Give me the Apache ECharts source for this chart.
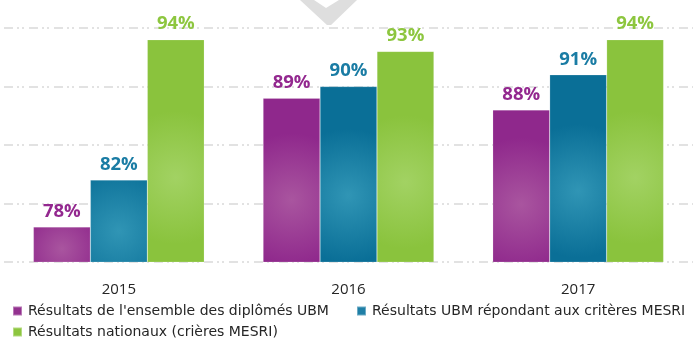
<!DOCTYPE html>
<html>
<head>
<meta charset="utf-8">
<script src="https://cdn.jsdelivr.net/npm/echarts@6/dist/echarts.min.js"></script>
<style>
  html, body { margin: 0; padding: 0; background: #ffffff; }
  #chart { width: 693px; height: 340px; }
</style>
</head>
<body>
<div id="chart"></div>
<script>
// Taux de réussite par année
const years = ['2015', '2016', '2017'];
const seriesNames = [
  "Résultats de l'ensemble des diplômés UBM",
  'Résultats UBM répondant aux critères MESRI',
  'Résultats nationaux (crières MESRI)'
];
const ensembleUBM = [78, 89, 88];
const ubmMesri = [82, 90, 91];
const nationaux = [94, 93, 94];

const FONT = 'Open Sans';
const LEGEND_FONT = 'DejaVu Sans';

function radial(inner, outer) {
  return {
    type: 'radial', x: 0.5, y: 0.62, r: 1.3,
    colorStops: [{ offset: 0, color: inner }, { offset: 0.9, color: outer }, { offset: 1, color: outer }]
  };
}

const palette = [
  { fill: radial('#a9559f', '#8f288c'), text: '#93288f', icon: '#93328f' },
  { fill: radial('#3095b5', '#0a6f97'), text: '#1a7ca4', icon: '#1f7fa6' },
  { fill: radial('#a2d263', '#8ac33d'), text: '#8dc63f', icon: '#8dc63f' }
];

const values = [ensembleUBM, ubmMesri, nationaux];

const series = values.map((vals, i) => ({
  name: seriesNames[i],
  type: 'bar',
  data: vals,
  barGap: '0%',
  barCategoryGap: '25.6%',
  itemStyle: { color: palette[i].fill, borderColor: 'rgba(255,255,255,0.35)', borderWidth: 0.5 },
  label: {
    show: true,
    position: 'top',
    distance: 6,
    formatter: '{c}%',
    color: palette[i].text,
    fontFamily: FONT,
    fontWeight: 'bold',
    fontSize: 18.5
  },
  emphasis: { disabled: true }
}));

const legendPos = [
  { left: 12, top: 304 },
  { left: 356, top: 304 },
  { left: 12, top: 325 }
];

const legends = seriesNames.map((name, i) => ({
  data: [{ name, itemStyle: { color: palette[i].icon } }],
  left: legendPos[i].left,
  top: legendPos[i].top,
  icon: 'rect',
  itemWidth: 9,
  itemHeight: 9,
  padding: 0,
  selectedMode: false,
  textStyle: { fontFamily: LEGEND_FONT, fontSize: 14, color: '#262626', padding: [0, 0, 0, 1] }
}));

const chart = echarts.init(document.getElementById('chart'), null, { renderer: 'canvas' });
chart.setOption({
  animation: false,
  backgroundColor: '#ffffff',
  grid: { left: 4, right: 0, top: 28, bottom: 78, containLabel: false },
  legend: legends,
  xAxis: {
    type: 'category',
    data: years,
    axisLine: { show: false },
    axisTick: { show: false },
    axisLabel: { fontFamily: FONT, fontSize: 15, color: '#262626', margin: 20 }
  },
  yAxis: {
    type: 'value',
    min: 75,
    max: 95,
    interval: 5,
    axisLabel: { show: false },
    axisLine: { show: false },
    axisTick: { show: false },
    splitLine: {
      show: true,
      lineStyle: { color: '#d9d9d9', width: 1.5, type: [9, 4, 2, 3, 2, 5] }
    }
  },
  graphic: [{
    type: 'polygon',
    z: 0,
    shape: { points: [[300, 0], [314, 0], [326, 8], [339, 0], [357, 0], [331, 25], [327, 25]] },
    style: { fill: '#dedede' }
  }],
  series
});
</script>
</body>
</html>
